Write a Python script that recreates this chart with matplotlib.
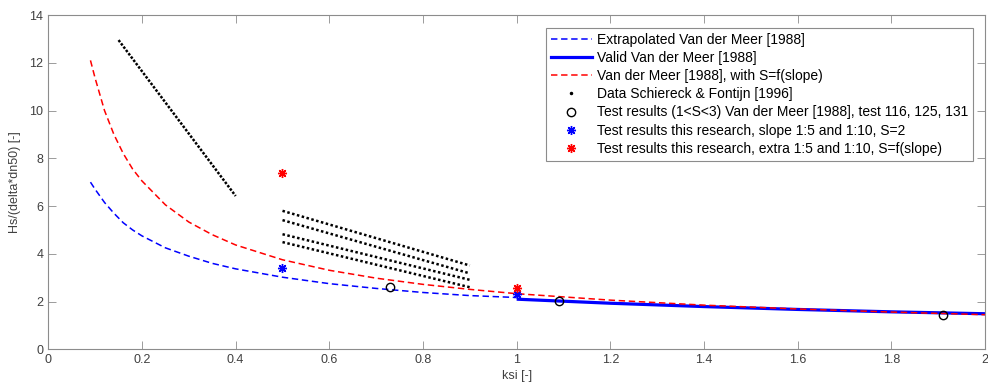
import numpy as np
import matplotlib
matplotlib.use('Agg')
import matplotlib.pyplot as plt
from matplotlib.lines import Line2D

plt.rcParams['font.family'] = ['Liberation Sans', 'DejaVu Sans']

# Extrapolated Van der Meer [1988] (blue dashed)
ksi_extra = [0.09, 0.10, 0.12, 0.14, 0.16, 0.18, 0.20, 0.25, 0.30, 0.35, 0.40,
             0.50, 0.60, 0.70, 0.80, 0.90, 1.00]
hs_extra = [7.0, 6.7, 6.15, 5.7, 5.3, 5.0, 4.75, 4.25, 3.9, 3.6, 3.37,
            3.02, 2.75, 2.55, 2.38, 2.25, 2.17]

# Valid Van der Meer [1988] (blue solid)
ksi_valid = [1.0, 1.2, 1.4, 1.6, 1.8, 2.0]
hs_valid = [2.1, 1.93, 1.79, 1.67, 1.57, 1.49]

# Van der Meer [1988] with S=f(slope) (red dashed)
ksi_slope = [0.09, 0.10, 0.12, 0.14, 0.16, 0.18, 0.20, 0.25, 0.30, 0.35, 0.40,
             0.50, 0.60, 0.70, 0.80, 0.90, 1.00, 1.2, 1.4, 1.6, 1.8, 2.0]
hs_slope = [12.1, 11.35, 10.0, 9.0, 8.2, 7.55, 7.05, 6.05, 5.33, 4.8, 4.37,
            3.75, 3.31, 2.98, 2.72, 2.51, 2.33, 2.06, 1.85, 1.69, 1.56, 1.45]

# Data Schiereck & Fontijn [1996]: start and end of each dotted series
sf_ksi = [(0.15, 0.40), (0.50, 0.90), (0.50, 0.90), (0.50, 0.90), (0.50, 0.90)]
sf_hs = [(12.95, 6.42), (5.80, 3.51), (5.41, 3.18), (4.82, 2.91), (4.49, 2.60)]
sf_gap = [0.65, 1.0, 1.0, 1.0, 1.0]

# Test results Van der Meer [1988], tests 116, 125, 131
ksi_vdm = [0.73, 1.09, 1.91]
hs_vdm = [2.60, 2.03, 1.44]

# Test results this research
ksi_blue = [0.5, 1.0]
hs_blue = [3.42, 2.32]
ksi_red = [0.5, 1.0]
hs_red = [7.37, 2.55]

xticks = [0, 0.2, 0.4, 0.6, 0.8, 1, 1.2, 1.4, 1.6, 1.8, 2]
xticklabels = ['0', '0.2', '0.4', '0.6', '0.8', '1', '1.2', '1.4', '1.6', '1.8', '2']
yticks = [0, 2, 4, 6, 8, 10, 12, 14]

fig = plt.figure(figsize=(9.88, 3.89), dpi=100)
ax = fig.add_axes([0.0489, 0.102, 0.9481, 0.8594])

dash = (0, (4.2, 2.4))
ax.plot(ksi_extra, hs_extra, color='#0000ff', lw=1.1, linestyle=dash)
ax.plot(ksi_valid, hs_valid, color='#0000ff', lw=2.3, solid_capstyle='butt')
ax.plot(ksi_slope, hs_slope, color='#ff0000', lw=1.1, linestyle=dash)

# dotted series, the dots come from the line style
for xs, ys, gap in zip(sf_ksi, sf_hs, sf_gap):
    ax.plot(xs, ys, color='black', lw=1.8, linestyle=(0, (1, gap)),
            dash_capstyle='butt')

ax.plot(ksi_vdm, hs_vdm, 'o', mfc='none', mec='black', ms=6, mew=1.0)
ax.plot(ksi_blue, hs_blue, linestyle='none', marker=(8, 2, 0), color='#0000ff', ms=6.5, mew=1.0)
ax.plot(ksi_red, hs_red, linestyle='none', marker=(8, 2, 0), color='#ff0000', ms=6.5, mew=1.0)

ax.set_xlim(0, 2)
ax.set_ylim(0, 14)
ax.set_xticks(xticks)
ax.set_xticklabels(xticklabels)
ax.set_yticks(yticks)
ax.tick_params(direction='in', length=5.5, width=0.6, colors='#8c8c8c',
               labelcolor='#404040', labelsize=9, top=True, right=True)
for s in ax.spines.values():
    s.set_color('#8c8c8c')
    s.set_linewidth(0.8)

ax.set_xlabel('ksi [-]', fontsize=9, color='#404040', labelpad=3)
ax.set_ylabel('Hs/(delta*dn50) [-]', fontsize=9, color='#404040', labelpad=6)

handles = [
    Line2D([], [], color='#0000ff', lw=1.1, linestyle=dash),
    Line2D([], [], color='#0000ff', lw=2.3),
    Line2D([], [], color='#ff0000', lw=1.1, linestyle=dash),
    Line2D([], [], color='black', linestyle='none', marker='.', ms=3),
    Line2D([], [], color='black', linestyle='none', marker='o', mfc='none', ms=6, mew=1.0),
    Line2D([], [], color='#0000ff', linestyle='none', marker=(8, 2, 0), ms=6.5, mew=1.0),
    Line2D([], [], color='#ff0000', linestyle='none', marker=(8, 2, 0), ms=6.5, mew=1.0),
]
labels = [
    'Extrapolated Van der Meer [1988]',
    'Valid Van der Meer [1988]',
    'Van der Meer [1988], with S=f(slope)',
    'Data Schiereck & Fontijn [1996]',
    'Test results (1<S<3) Van der Meer [1988], test 116, 125, 131',
    'Test results this research, slope 1:5 and 1:10, S=2',
    'Test results this research, extra 1:5 and 1:10, S=f(slope)',
]
leg = ax.legend(handles, labels, loc='upper right', bbox_to_anchor=(0.987, 0.962),
                fontsize=10, frameon=True, fancybox=False, framealpha=1,
                edgecolor='#8c8c8c', handlelength=2.9, handletextpad=0.36,
                labelspacing=0.30, borderpad=0.36, borderaxespad=0)
leg.get_frame().set_linewidth(0.8)

fig.savefig('out.png', dpi=100)
